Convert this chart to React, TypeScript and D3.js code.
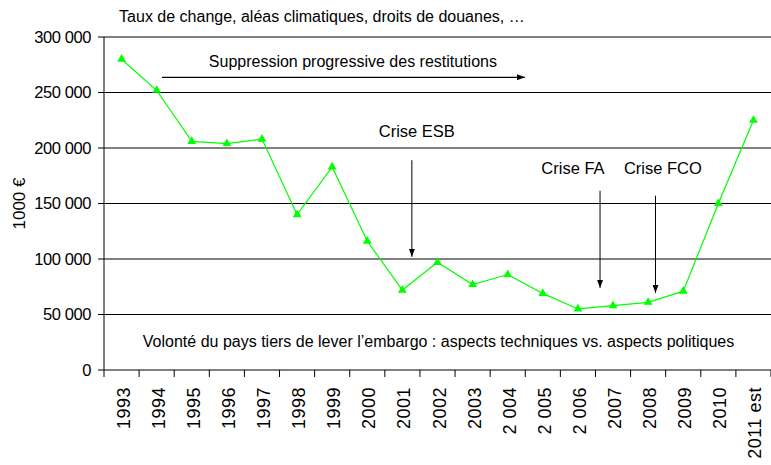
import React from 'react';
import * as d3 from 'd3';

const years = [
  '1993', '1994', '1995', '1996', '1997', '1998', '1999', '2000', '2001', '2002',
  '2003', '2 004', '2 005', '2 006', '2007', '2008', '2009', '2010', '2011 est',
];
const values = [
  280000, 252000, 206000, 204000, 208000, 140000, 183000, 116000, 72000, 97000,
  77000, 86000, 69000, 55000, 58000, 61000, 71000, 150000, 225000,
];
const yTicks = [0, 50000, 100000, 150000, 200000, 250000, 300000];

// annotations in data space: i = fractional category index, v = value
const crises = [
  { label: 'Crise ESB', ti: 8.41, tv: 210000, ai: 8.27, from: 189000, to: 102000 },
  { label: 'Crise FA', ti: 12.86, tv: 176500, ai: 13.63, from: 161500, to: 74000 },
  { label: 'Crise FCO', ti: 15.42, tv: 176500, ai: 15.21, from: 157000, to: 69500 },
];

const width = 771;
const height = 465;
const margin = { top: 37, right: 0, bottom: 95, left: 104 };
const font = '"Liberation Sans", Arial, sans-serif';

const fmt = (v: number) => d3.format(',')(v).replace(/,/g, ' ');

const App: React.FC = () => {
  const x = d3.scaleBand<string>().domain(years).range([margin.left, width - margin.right]);
  const y = d3.scaleLinear().domain([0, 300000]).range([height - margin.bottom, margin.top]);
  const bw = x.bandwidth();
  const xi = (i: number) => margin.left + (i + 0.5) * bw;

  const line = d3.line<number>()
    .x((_, i) => xi(i))
    .y(d => y(d));
  const tri = d3.symbol().type(d3.symbolTriangle).size(34)() || '';

  return (
    <svg width={width} height={height} style={{ position: 'absolute', left: 0, top: 0, background: '#fff' }} fontFamily={font}>
      <defs>
        <marker id="ah" markerWidth="8" markerHeight="6" refX="8" refY="3" orient="auto" markerUnits="userSpaceOnUse">
          <polygon points="0 0, 8 3, 0 6" fill="#000" />
        </marker>
      </defs>

      {yTicks.map(t => (
        <g key={t}>
          <line x1={margin.left - 6} x2={width} y1={y(t)} y2={y(t)} stroke="#000" strokeWidth="1" />
          <text x={margin.left - 13} y={y(t)} dy="0.36em" textAnchor="end" fontSize="16.5" fill="#000" letterSpacing="-0.4">
            {fmt(t)}
          </text>
        </g>
      ))}

      <line x1={margin.left} x2={margin.left} y1={y(300000)} y2={y(0)} stroke="#000" />
      {d3.range(years.length + 1).map(i => (
        <line key={i} x1={margin.left + i * bw} x2={margin.left + i * bw} y1={y(0)} y2={y(0) + 7} stroke="#000" />
      ))}
      {years.map(yr => (
        <text
          key={yr}
          transform={`translate(${(x(yr) || 0) + bw / 2 + 8},${y(0) + 17}) rotate(-90)`}
          textAnchor="end"
          fontSize="18"
          letterSpacing="0.5"
          fill="#000"
        >
          {yr}
        </text>
      ))}

      <text transform={`translate(25,${y(150000)}) rotate(-90)`} textAnchor="middle" fontSize="17" fill="#000">1000 €</text>

      <text x={xi(-0.07)} y={y(313500)} fontSize="16" fill="#000">Taux de change, aléas climatiques, droits de douanes, …</text>

      <text x={xi(6.59)} y={y(273000)} textAnchor="middle" fontSize="16" fill="#000">Suppression progressive des restitutions</text>
      <line x1={xi(1.15)} x2={xi(11.49)} y1={y(263700)} y2={y(263700)} stroke="#000" strokeWidth="1.3" markerEnd="url(#ah)" />

      {crises.map(c => (
        <g key={c.label}>
          <text x={xi(c.ti)} y={y(c.tv)} textAnchor="middle" fontSize="16.5" fill="#000">{c.label}</text>
          <line x1={xi(c.ai)} x2={xi(c.ai)} y1={y(c.from)} y2={y(c.to)} stroke="#000" strokeWidth="1" markerEnd="url(#ah)" />
        </g>
      ))}

      <text x={xi(9.03)} y={y(20700)} textAnchor="middle" fontSize="16" fill="#000">
        Volonté du pays tiers de lever l’embargo : aspects techniques vs. aspects politiques
      </text>

      <path d={line(values) || ''} fill="none" stroke="#00ff00" strokeWidth="1.2" />
      {values.map((v, i) => (
        <path key={i} d={tri} transform={`translate(${xi(i)},${y(v)})`} fill="#00ff00" />
      ))}
    </svg>
  );
};

export default App;
